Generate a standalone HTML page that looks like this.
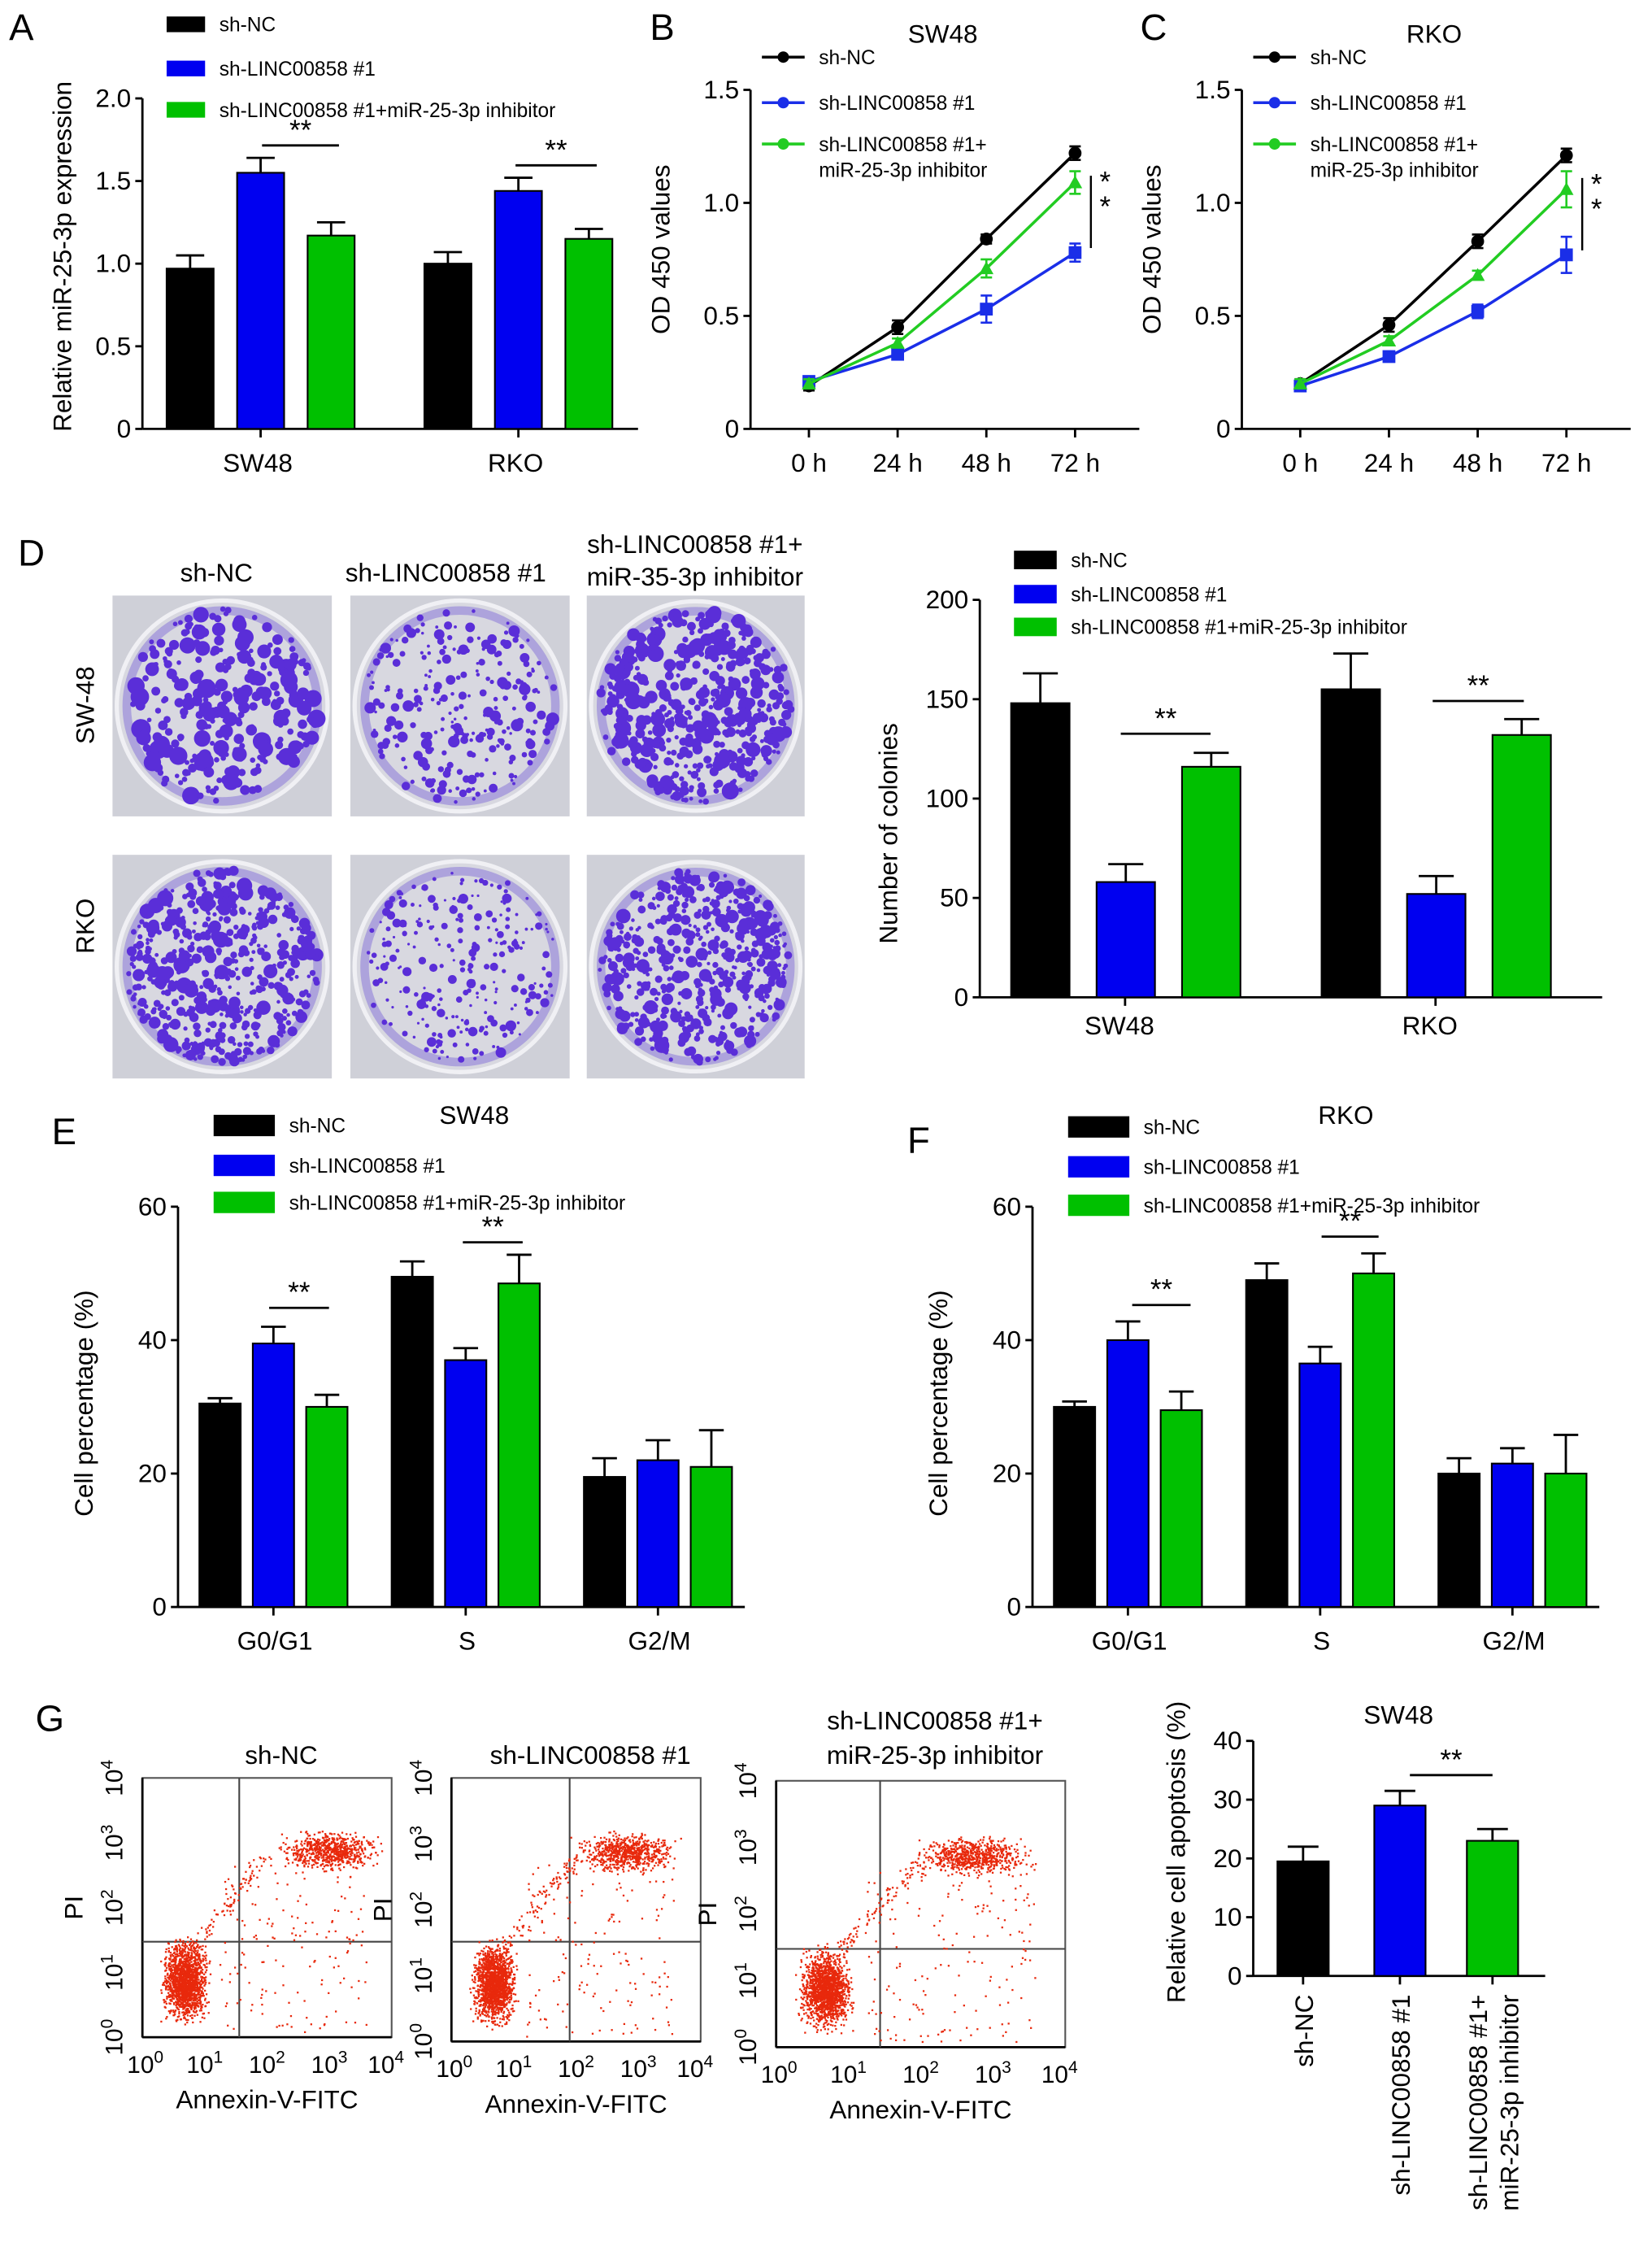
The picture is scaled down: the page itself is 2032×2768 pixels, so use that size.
<!DOCTYPE html>
<html><head><meta charset="utf-8">
<style>
html,body{margin:0;padding:0;background:#fff;}
svg{display:block;font-family:"Liberation Sans",Arial,sans-serif;}
text{fill:#000;}
</style></head>
<body>
<svg id="fig" xmlns="http://www.w3.org/2000/svg" width="2032" height="2768" viewBox="0 0 1160 1580">
<rect x="0" y="0" width="1160" height="1580" fill="#fff"/>
</svg>
<script>
// ---------- DATA ----------
const groupsAB = ["SW48","RKO"];
const aValues = [[0.97,1.55,1.17],[1.0,1.44,1.15]];
const aErrors = [[0.08,0.09,0.08],[0.07,0.08,0.06]];
const seriesNames = ["sh-NC","sh-LINC00858 #1","sh-LINC00858 #1+miR-25-3p inhibitor"];
const timeLabels = ["0 h","24 h","48 h","72 h"];
const bBlack = [0.19,0.45,0.84,1.22];
const bBlue = [0.21,0.33,0.53,0.78];
const bGreen = [0.20,0.38,0.71,1.09];
const bErrBlack = [0.02,0.03,0.02,0.03];
const bErrBlue = [0.02,0.02,0.06,0.04];
const bErrGreen = [0.02,0.02,0.04,0.05];
const cBlack = [0.20,0.46,0.83,1.21];
const cBlue = [0.19,0.32,0.52,0.77];
const cGreen = [0.20,0.39,0.68,1.06];
const cErrBlack = [0.02,0.03,0.03,0.03];
const cErrBlue = [0.02,0.02,0.03,0.08];
const cErrGreen = [0.02,0.02,0.02,0.08];
const dValues = [[148,58,116],[155,52,132]];
const dErrors = [[15,9,7],[18,9,8]];
const cyclePhases = ["G0/G1","S","G2/M"];
const eValues = [[30.5,39.5,30],[49.5,37,48.5],[19.5,22,21]];
const eErrors = [[0.8,2.5,1.8],[2.3,1.8,4.3],[2.8,3,5.5]];
const fValues = [[30,40,29.5],[49,36.5,50],[20,21.5,20]];
const fErrors = [[0.8,2.8,2.8],[2.5,2.5,3],[2.3,2.3,5.8]];
const gValues = [19.5,29,23];
const gErrors = [2.5,2.5,2];
const ticksA = [0,0.5,1.0,1.5,2.0];
const tickLabelsA = ["0","0.5","1.0","1.5","2.0"];
const ticksB = [0,0.5,1.0,1.5];
const tickLabelsB = ["0","0.5","1.0","1.5"];
const ticksD = [0,50,100,150,200];
const ticksE = [0,20,40,60];
const ticksG = [0,10,20,30,40];

const COL = ["#000000","#0000f0","#00c000"];
const LCOL = ["#000000","#1a2ee8","#22cc22"];
const NS = "http://www.w3.org/2000/svg";
const svg = document.getElementById("fig");

function el(tag, attrs, parent, txt){
  const e = document.createElementNS(NS, tag);
  for (const k in attrs) e.setAttribute(k, attrs[k]);
  if (txt !== undefined) e.textContent = txt;
  (parent||svg).appendChild(e);
  return e;
}
function grp(name, parent){
  const g = el("g", {}, parent);
  
  
  return g;
}
function txt(p, x, y, s, size, name, anchor, rot){
  const a = {x:x, y:y, "font-size":size, "text-anchor":anchor||"middle"};
  if (rot) a.transform = "rotate(" + rot + " " + x + " " + y + ")";
  const t = el("text", a, p, s);
  
  
  return t;
}
function line(p, x1, y1, x2, y2, w, c, name){
  const l = el("line", {x1:x1,y1:y1,x2:x2,y2:y2,stroke:c||"#000","stroke-width":w||1.6}, p);
  
  
  return l;
}
function yAxis(p, x, y0, y1, vmax, ticks, labels, fs){
  const sc = v => y0 - (v / vmax) * (y0 - y1);
  line(p, x, y0, x, y1, 1.6, "#000", "y-axis-line");
  ticks.forEach((t,i) => {
    line(p, x-5, sc(t), x, sc(t), 1.6, "#000", "y-tick");
    txt(p, x-8, sc(t)+6, labels ? labels[i] : String(t), fs||17, "y-tick-label", "end");
  });
  return sc;
}
function errBar(p, cx, y, yTop, w, name){
  line(p, cx, y, cx, yTop, 1.6, "#000", name);
  line(p, cx-w, yTop, cx+w, yTop, 1.6, "#000", name + "-cap");
}
function bar(p, x, w, sc, v, e, color, name){
  errBar(p, x + w/2, sc(v), sc(v+e), w*0.3, name + "-error");
  const r = el("rect", {x:x, y:sc(v), width:w, height:sc(0)-sc(v), fill:color, stroke:"#000", "stroke-width":1.2}, p);
  
  
}
function sig(p, x1, x2, y, name){
  line(p, x1, y, x2, y, 1.6, "#000", name + "-line");
  txt(p, (x1+x2)/2, y-4, "**", 20, name + "-stars");
}
function legendBars(p, x, ys, w, h, fs){
  ys.forEach((y,i) => {
    const r = el("rect", {x:x, y:y-h/2, width:w, height:h, fill:COL[i]}, p);
    
    
    txt(p, x+w+10, y+5, seriesNames[i], fs||14, "legend-entry", "start");
  });
}

// ---------- PANEL A ----------
(function(){
  const g = grp("panel-a");
  txt(g, 15, 28, "A", 26, "panel-label-a");
  legendBars(g, 117, [17,48,77], 27, 11, 14);
  const sc = yAxis(g, 100, 301, 69, 2.0, ticksA, tickLabelsA, 18);
  line(g, 100, 301, 448, 301, 1.6, "#000", "x-axis-line");
  const starts = [117, 298], step = [0, 49.5, 99], w = 33;
  groupsAB.forEach((gn, gi) => {
    aValues[gi].forEach((v, si) => bar(g, starts[gi]+step[si], w, sc, v, aErrors[gi][si], COL[si], "bar-a-"+gn+"-"+si));
    const cx = starts[gi] + 66;
    line(g, cx, 301, cx, 307, 1.6, "#000", "x-tick");
    txt(g, cx-2, 331, gn, 18, "x-tick-label");
  });
  sig(g, 184, 238, 102, "sig-a-sw48");
  sig(g, 362, 419, 116, "sig-a-rko");
  txt(g, 50, 180, "Relative miR-25-3p expression", 18, "y-axis-title", "middle", -90);
})();

// ---------- PANELS B / C ----------
function linePanel(name, ox, label, title, blk, blu, grn, eb, ebl, egr, bracketX){
  const g = grp(name);
  txt(g, ox-62, 28, label, 26, "panel-label");
  txt(g, ox+135, 30, title, 18, "chart-title");
  const sc = yAxis(g, ox, 301, 63, 1.5, ticksB, tickLabelsB, 18);
  line(g, ox, 301, ox+273, 301, 1.6, "#000", "x-axis-line");
  const xs = i => ox + 41 + i * 62.3;
  timeLabels.forEach((t,i) => {
    line(g, xs(i), 301, xs(i), 307, 1.6, "#000", "x-tick");
    txt(g, xs(i), 331, t, 18, "x-tick-label");
  });
  const series = [[blk,eb,0,"circle"],[blu,ebl,1,"square"],[grn,egr,2,"triangle"]];
  series.forEach(s => {
    const [vals, errs, ci, shape] = s;
    const pts = vals.map((v,i) => xs(i) + "," + sc(v)).join(" ");
    const pl = el("polyline", {points:pts, fill:"none", stroke:LCOL[ci], "stroke-width":2}, g);
    
    
    vals.forEach((v,i) => {
      const x = xs(i), y = sc(v);
      line(g, x, sc(v-errs[i]), x, sc(v+errs[i]), 1.5, LCOL[ci], "error-bar");
      line(g, x-4, sc(v+errs[i]), x+4, sc(v+errs[i]), 1.5, LCOL[ci], "error-cap");
      line(g, x-4, sc(v-errs[i]), x+4, sc(v-errs[i]), 1.5, LCOL[ci], "error-cap");
      let m;
      if (shape === "circle") m = el("circle", {cx:x, cy:y, r:4.5, fill:LCOL[ci]}, g);
      else if (shape === "square") m = el("rect", {x:x-4.5, y:y-4.5, width:9, height:9, fill:LCOL[ci]}, g);
      else m = el("polygon", {points:(x)+","+(y-5)+" "+(x-5)+","+(y+4)+" "+(x+5)+","+(y+4), fill:LCOL[ci]}, g);
      
      
    });
  });
  const ly = [40, 72, 101];
  ly.forEach((y,i) => {
    line(g, ox+8, y, ox+38, y, 2, LCOL[i], "legend-line");
    const mk = el("circle", {cx:ox+23, cy:y, r:4, fill:LCOL[i]}, g);
    
    
  });
  txt(g, ox+48, 45, "sh-NC", 14, "legend-entry", "start");
  txt(g, ox+48, 77, "sh-LINC00858 #1", 14, "legend-entry", "start");
  txt(g, ox+48, 106, "sh-LINC00858 #1+", 14, "legend-entry", "start");
  txt(g, ox+48, 124, "miR-25-3p inhibitor", 14, "legend-entry", "start");
  line(g, bracketX, sc(blk[3]-0.1), bracketX, sc(blu[3]+0.02), 1.4, "#000", "sig-bracket");
  txt(g, bracketX+10, sc(blk[3]-0.17), "*", 20, "sig-star");
  txt(g, bracketX+10, sc(blk[3]-0.28), "*", 20, "sig-star");
  txt(g, ox-57, 175, "OD 450 values", 18, "y-axis-title", "middle", -90);
}
linePanel("panel-b", 527, "B", "SW48", bBlack, bBlue, bGreen, bErrBlack, bErrBlue, bErrGreen, 766);
linePanel("panel-c", 872, "C", "RKO", cBlack, cBlue, cGreen, cErrBlack, cErrBlue, cErrGreen, 1111);

// ---------- PANEL D plates ----------
let seed = 12345;
function rnd(){ seed = (seed * 16807) % 2147483647; return (seed - 1) / 2147483646; }
(function(){
  const g = grp("panel-d-plates");
  txt(g, 22, 397, "D", 26, "panel-label-d");
  txt(g, 152, 408, "sh-NC", 18, "column-header");
  txt(g, 313, 408, "sh-LINC00858 #1", 18, "column-header");
  txt(g, 488, 388, "sh-LINC00858 #1+", 18, "column-header");
  txt(g, 488, 411, "miR-35-3p inhibitor", 18, "column-header");
  txt(g, 66, 495, "SW-48", 18, "row-label", "middle", -90);
  txt(g, 66, 650, "RKO", 18, "row-label", "middle", -90);
  const cols = [[79,233],[246,400],[412,565]];
  const rows = [[418,573],[600,757]];
  const density = [[300,260,500],[520,260,520]];
  const sizes = [[2.6,1.7,2.3],[2.1,1.5,2.0]];
  rows.forEach((r,ri) => cols.forEach((c,ci) => {
    const pg = grp("colony-plate-" + ri + "-" + ci, g);
    el("rect", {x:c[0], y:r[0], width:c[1]-c[0], height:r[1]-r[0], fill:"#cfd0d8"}, pg);
    const cx = (c[0]+c[1])/2, cy = (r[0]+r[1])/2, R = Math.min(c[1]-c[0], r[1]-r[0])/2 - 3;
    el("circle", {cx:cx, cy:cy, r:R, fill:"#d8d8e0", stroke:"#f0f0f4", "stroke-width":3}, pg);
    el("circle", {cx:cx, cy:cy, r:R-7, fill:"none", stroke:"#8a78d8", "stroke-width":6, opacity:0.55}, pg);
    let dots = "";
    for (let k = 0; k < density[ri][ci]; k++){
      const a = rnd()*Math.PI*2, d = Math.sqrt(rnd()) * (R-6);
      const rr = (0.6 + rnd()*rnd()*2.2) * sizes[ri][ci];
      dots += '<circle cx="'+(cx+Math.cos(a)*d).toFixed(1)+'" cy="'+(cy+Math.sin(a)*d).toFixed(1)+'" r="'+rr.toFixed(1)+'"/>';
    }
    const dg = el("g", {fill:"#5a2ed8"}, pg);
    dg.innerHTML = dots;
  }));
})();

// ---------- PANEL D chart ----------
(function(){
  const g = grp("panel-d-chart");
  legendBars(g, 712, [393,417,440], 30, 13, 14);
  const sc = yAxis(g, 688, 700, 421, 200, ticksD, null, 18);
  line(g, 688, 700, 1125, 700, 1.6, "#000", "x-axis-line");
  const starts = [710, 928], step = [0, 60, 120], w = 41;
  groupsAB.forEach((gn, gi) => {
    dValues[gi].forEach((v, si) => bar(g, starts[gi]+step[si], w, sc, v, dErrors[gi][si], COL[si], "bar-d-"+gn+"-"+si));
    const cx = starts[gi] + 80;
    line(g, cx, 700, cx, 706, 1.6, "#000", "x-tick");
    txt(g, cx-4, 726, gn, 18, "x-tick-label");
  });
  sig(g, 787, 850, 515, "sig-d-sw48");
  sig(g, 1006, 1070, 492, "sig-d-rko");
  txt(g, 630, 585, "Number of colonies", 18, "y-axis-title", "middle", -90);
})();

// ---------- PANELS E / F ----------
function cyclePanel(name, ox, label, labelY, title, titleX, vals, errs, legY, sigs){
  const g = grp(name);
  txt(g, ox-80, labelY, label, 26, "panel-label");
  txt(g, titleX, 789, title, 18, "chart-title");
  legendBars(g, ox+25, legY, 43, 15, 14);
  const sc = yAxis(g, ox, 1128, 847, 60, ticksE, null, 18);
  line(g, ox, 1128, ox+398, 1128, 1.6, "#000", "x-axis-line");
  const starts = [ox+15, ox+150, ox+285], step = [0, 37.5, 75], w = 29;
  cyclePhases.forEach((ph, pi) => {
    vals[pi].forEach((v, si) => bar(g, starts[pi]+step[si], w, sc, v, errs[pi][si], COL[si], "bar-"+ph+"-"+si));
    const cx = starts[pi] + 52;
    line(g, cx, 1128, cx, 1134, 1.6, "#000", "x-tick");
    txt(g, cx+1, 1158, ph, 18, "x-tick-label");
  });
  sigs.forEach(s => sig(g, s[0], s[1], s[2], "sig-bar"));
  txt(g, ox-60, 985, "Cell percentage (%)", 18, "y-axis-title", "middle", -90);
}
cyclePanel("panel-e", 125, "E", 803, "SW48", 333, eValues, eErrors, [790,818,844], [[189,231,918],[325,367,872]]);
cyclePanel("panel-f", 725, "F", 809, "RKO", 945, fValues, fErrors, [791,819,846], [[795,836,916],[928,968,868]]);

// ---------- PANEL G flow plots ----------
function sup(p, x, y, base, exp, name, rot){
  const a = {x:x, y:y, "font-size":17, "text-anchor":"middle"};
  if (rot) a.transform = "rotate(" + rot + " " + x + " " + y + ")";
  const t = el("text", a, p);
  
  
  el("tspan", {}, t, base);
  el("tspan", {dy:-7, "font-size":12}, t, exp);
}
function flowPlot(name, x0, x1, y0, y1, vx, hy, titles, cxr){
  const g = grp(name);
  titles.forEach((t,i) => txt(g, (x0+x1)/2 + 10, 1238 - (titles.length-1-i)*24, t, 18, "plot-title"));
  const fr = el("rect", {x:x0, y:y0, width:x1-x0, height:y1-y0, fill:"none", stroke:"#555", "stroke-width":1.2}, g);
  
  
  line(g, x0, y1, x1, y1, 1.6, "#000", "x-axis-line");
  line(g, x0, y0, x0, y1, 1.6, "#000", "y-axis-line");
  line(g, vx, y0, vx, y1, 1.2, "#444", "quadrant-v");
  line(g, x0, hy, x1, hy, 1.2, "#444", "quadrant-h");
  const w = x1-x0, h = y1-y0;
  let dots = "";
  const add = (x,y) => { if (x>x0+1 && x<x1-1 && y>y0+1 && y<y1-1) dots += '<rect x="'+x.toFixed(1)+'" y="'+y.toFixed(1)+'" width="1.3" height="1.3"/>'; };
  const gauss = () => (rnd()+rnd()+rnd()-1.5)/1.5;
  for (let k=0;k<1600;k++) add(x0+w*0.17+gauss()*w*0.11, y0+h*0.78+gauss()*h*0.19);
  for (let k=0;k<700;k++) add(x0+w*cxr+gauss()*w*0.24, y0+h*0.28+gauss()*h*0.09);
  for (let k=0;k<170;k++) add(x0+w*(0.3+rnd()*0.6), y0+h*(0.3+rnd()*0.68));
  for (let k=0;k<80;k++) { const t = rnd(); add(x0+w*(0.2+t*0.3)+gauss()*8, y0+h*(0.65-t*0.35)+gauss()*8); }
  const dg = el("g", {fill:"#e8290c"}, g);
  dg.innerHTML = dots;
  const ex = ["0","1","2","3","4"];
  ex.forEach((e,i) => {
    const x = x0 + i*(w/4) + (i===0?2:0) - (i===4?4:0);
    sup(g, x, y1+25, "10", e, "x-tick-label");
    const y = y1 - i*(h/4);
    sup(g, x0-14, y, "10", e, "y-tick-label", -90);
  });
  txt(g, (x0+x1)/2, y1+50, "Annexin-V-FITC", 18, "x-axis-title");
  txt(g, x0-42, (y0+y1)/2, "PI", 18, "y-axis-title", "middle", -90);
}
txt(svg, 35, 1215, "G", 26, "panel-label-g");
flowPlot("flow-sh-nc", 100, 275, 1248, 1430, 168, 1363, ["sh-NC"], 0.75);
flowPlot("flow-sh-linc", 317, 492, 1248, 1433, 400, 1363, ["sh-LINC00858 #1"], 0.7);
flowPlot("flow-sh-linc-inhibitor", 545, 748, 1250, 1437, 618, 1368, ["sh-LINC00858 #1+","miR-25-3p inhibitor"], 0.68);

// ---------- PANEL G bar chart ----------
(function(){
  const g = grp("panel-g-chart");
  txt(g, 982, 1210, "SW48", 18, "chart-title");
  const sc = yAxis(g, 880, 1387, 1222, 40, ticksG, null, 18);
  line(g, 880, 1387, 1085, 1387, 1.6, "#000", "x-axis-line");
  const xs = [897, 965, 1030], w = 36;
  const labs = [["sh-NC"],["sh-LINC00858 #1"],["sh-LINC00858 #1+","miR-25-3p inhibitor"]];
  gValues.forEach((v,i) => {
    bar(g, xs[i], w, sc, v, gErrors[i], COL[i], "bar-g-"+i);
    const cx = xs[i] + w/2;
    line(g, cx, 1387, cx, 1393, 1.6, "#000", "x-tick");
    labs[i].forEach((l,j) => {
      const lx = cx + 7 + (labs[i].length>1 ? (j-0.5)*22 : 0);
      txt(g, lx, 1400, l, 18, "x-tick-label", "end", -90);
    });
  });
  sig(g, 990, 1048, 1246, "sig-g");
  txt(g, 832, 1300, "Relative cell apoptosis (%)", 18, "y-axis-title", "middle", -90);
})();
</script>
</body></html>
